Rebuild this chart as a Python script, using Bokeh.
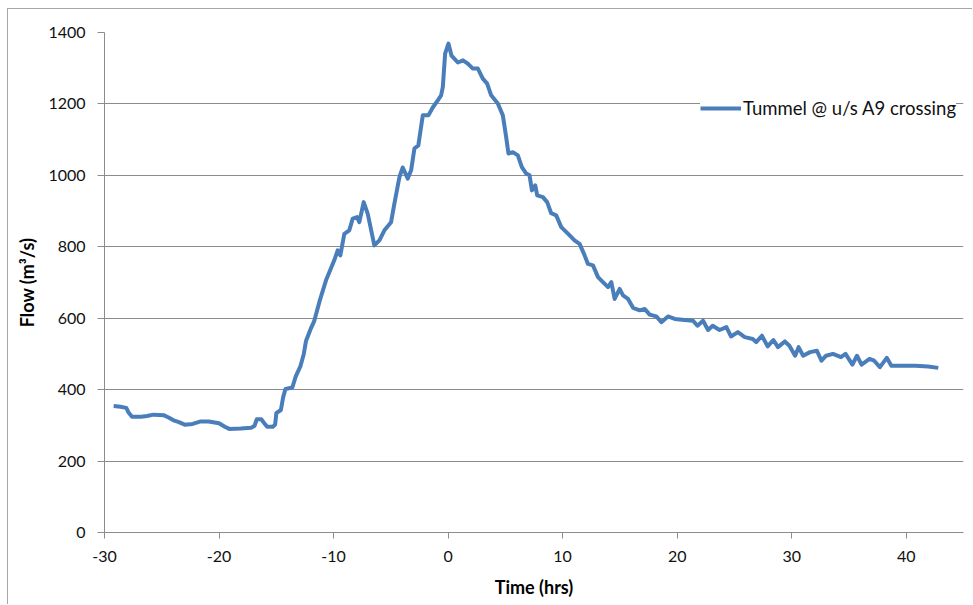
from bokeh.plotting import figure
from bokeh.models import Range1d, FixedTicker, Legend, LegendItem, ColumnDataSource
from bokeh.embed import file_html
from bokeh.resources import INLINE

time_hrs = [-29.2, -28.6, -28.1, -27.9, -27.6, -26.8, -26.3, -25.7, -24.8, -24.4, -23.9, -23.5, -23.0,
            -22.3, -21.6, -20.9, -20.0, -19.5, -19.1, -18.1, -17.2, -16.9, -16.7, -16.3, -16.1, -15.8,
            -15.3, -15.1, -15.0, -14.6, -14.4, -14.2, -13.6, -13.3, -12.9, -12.6, -12.4, -12.0, -11.7,
            -11.2, -10.66, -9.94, -9.64, -9.41, -9.06, -8.63, -8.33, -7.95, -7.75, -7.37, -7.02, -6.44,
            -6.00, -5.56, -4.98, -4.69, -4.25, -3.96, -3.52, -3.23, -2.94, -2.60, -2.21, -1.72, -1.34,
            -0.90, -0.61, -0.46, -0.26, 0.03, 0.30, 0.85, 1.30, 1.72, 2.16, 2.60, 3.03, 3.41, 3.76,
            4.34, 4.78, 5.07, 5.27, 5.65, 6.09, 6.44, 6.82, 7.11, 7.32, 7.61, 7.78, 8.28, 8.65, 9.00,
            9.44, 9.88, 10.46, 11.04, 11.48, 11.92, 12.21, 12.65, 13.09, 13.52, 13.96, 14.25, 14.54,
            14.98, 15.27, 15.71, 16.15, 16.73, 17.16, 17.60, 18.18, 18.62, 19.2, 19.79, 20.66, 21.39,
            21.77, 22.26, 22.70, 23.1, 23.7, 24.3, 24.7, 25.3, 25.9, 26.6, 26.9, 27.4, 27.9, 28.4,
            28.8, 29.4, 29.8, 30.3, 30.6, 31.0, 31.6, 32.2, 32.6, 33.0, 33.6, 34.3, 34.7, 35.3, 35.7,
            36.1, 36.8, 37.2, 37.7, 38.3, 38.7, 39.6, 40.8, 41.9, 42.8]
flow = [354, 352, 349, 336, 324, 324, 326, 330, 328, 322, 313, 309, 302,
        304, 311, 311, 306, 296, 290, 291, 293, 299, 317, 317, 308, 296,
        296, 302, 334, 343, 379, 402, 406, 437, 465, 500, 537, 570, 591,
        650, 706, 762, 790, 776, 836, 846, 879, 883, 869, 925, 893, 804,
        818, 846, 869, 921, 995, 1022, 991, 1014, 1075, 1084, 1168, 1168, 1190,
        1210, 1224, 1248, 1341, 1369, 1335, 1316, 1322, 1313, 1299, 1299, 1271, 1257, 1224,
        1201, 1168, 1107, 1061, 1065, 1056, 1023, 1005, 1000, 958, 972, 944, 939, 925, 894,
        888, 855, 837, 818, 808, 776, 752, 748, 715, 701, 687, 701, 654,
        682, 664, 654, 629, 622, 626, 610, 605, 589, 605, 598, 595, 593,
        579, 593, 567, 579, 567, 575, 549, 561, 547, 542, 533, 551, 521, 539,
        519, 535, 523, 495, 519, 495, 505, 509, 481, 495, 500, 491, 500, 470, 495,
        470, 486, 481, 463, 489, 467, 467, 467, 465, 461]

x_ticks = [-30, -20, -10, 0, 10, 20, 30, 40]
x_tick_labels = ["-30", "-20", "-10", "0", "10", "20", "30", "40"]
y_ticks = [0, 200, 400, 600, 800, 1000, 1200, 1400]
series_name = "Tummel @ u/s A9 crossing"
x_title = "Time (hrs)"
y_title = "Flow (m³/s)"

FONT = "Lato"
GRID = "#8C8C8C"

# figure offset inside a light chart-area border (left and top edges visible)
p = figure(width=965, height=596, output_backend="svg", toolbar_location=None,
           x_range=Range1d(-30, 45), y_range=Range1d(0, 1400))
p.styles = {"margin-left": "7px", "margin-top": "8px",
            "border-left": "1px solid #A6A6A6", "border-top": "1px solid #A6A6A6"}
p.min_border_left = 96
p.min_border_right = 10
p.min_border_top = 23
p.min_border_bottom = 73
p.outline_line_color = None
p.background_fill_color = "white"
p.border_fill_color = "white"

src = ColumnDataSource(dict(t=time_hrs, q=flow))
r = p.line("t", "q", source=src, line_color="#4A7EBB", line_width=4, line_join="round")

p.xgrid.visible = False
p.ygrid.ticker = FixedTicker(ticks=y_ticks)
p.ygrid.grid_line_color = GRID
p.ygrid.grid_line_width = 1

for ax in (p.xaxis[0], p.yaxis[0]):
    ax.axis_line_color = GRID
    ax.major_tick_line_color = GRID
    ax.minor_tick_line_color = None
    ax.major_tick_in = 0
    ax.major_label_text_font = FONT
    ax.major_label_text_font_size = "16px"
    ax.major_label_text_color = "#111111"
    ax.axis_label_text_font = FONT
    ax.axis_label_text_font_style = "bold"
    ax.axis_label_text_font_size = "18px"
    ax.axis_label_text_color = "black"

p.xaxis.ticker = FixedTicker(ticks=x_ticks)
p.xaxis.major_label_overrides = {t: s for t, s in zip(x_ticks, x_tick_labels)}
p.yaxis.ticker = FixedTicker(ticks=y_ticks)
p.xaxis.major_tick_out = 6
p.yaxis.major_tick_out = 7
p.xaxis.major_label_standoff = 12
p.yaxis.major_label_standoff = 12
p.xaxis.axis_label = x_title
p.xaxis.axis_label_standoff = 11
p.yaxis.axis_label = y_title
p.yaxis.axis_label_standoff = 7

legend = Legend(items=[LegendItem(label=series_name, renderers=[r])],
                location=(596, 413), orientation="vertical")
legend.glyph_width = 41
legend.glyph_height = 20
legend.label_standoff = 2
legend.padding = 4
legend.margin = 0
legend.spacing = 0
legend.border_line_color = None
legend.background_fill_color = "white"
legend.background_fill_alpha = 1.0
legend.label_text_font = FONT
legend.label_text_font_size = "18.5px"
legend.label_text_color = "#111111"
p.add_layout(legend, "center")

open("out.html", "w").write(file_html(p, INLINE))
